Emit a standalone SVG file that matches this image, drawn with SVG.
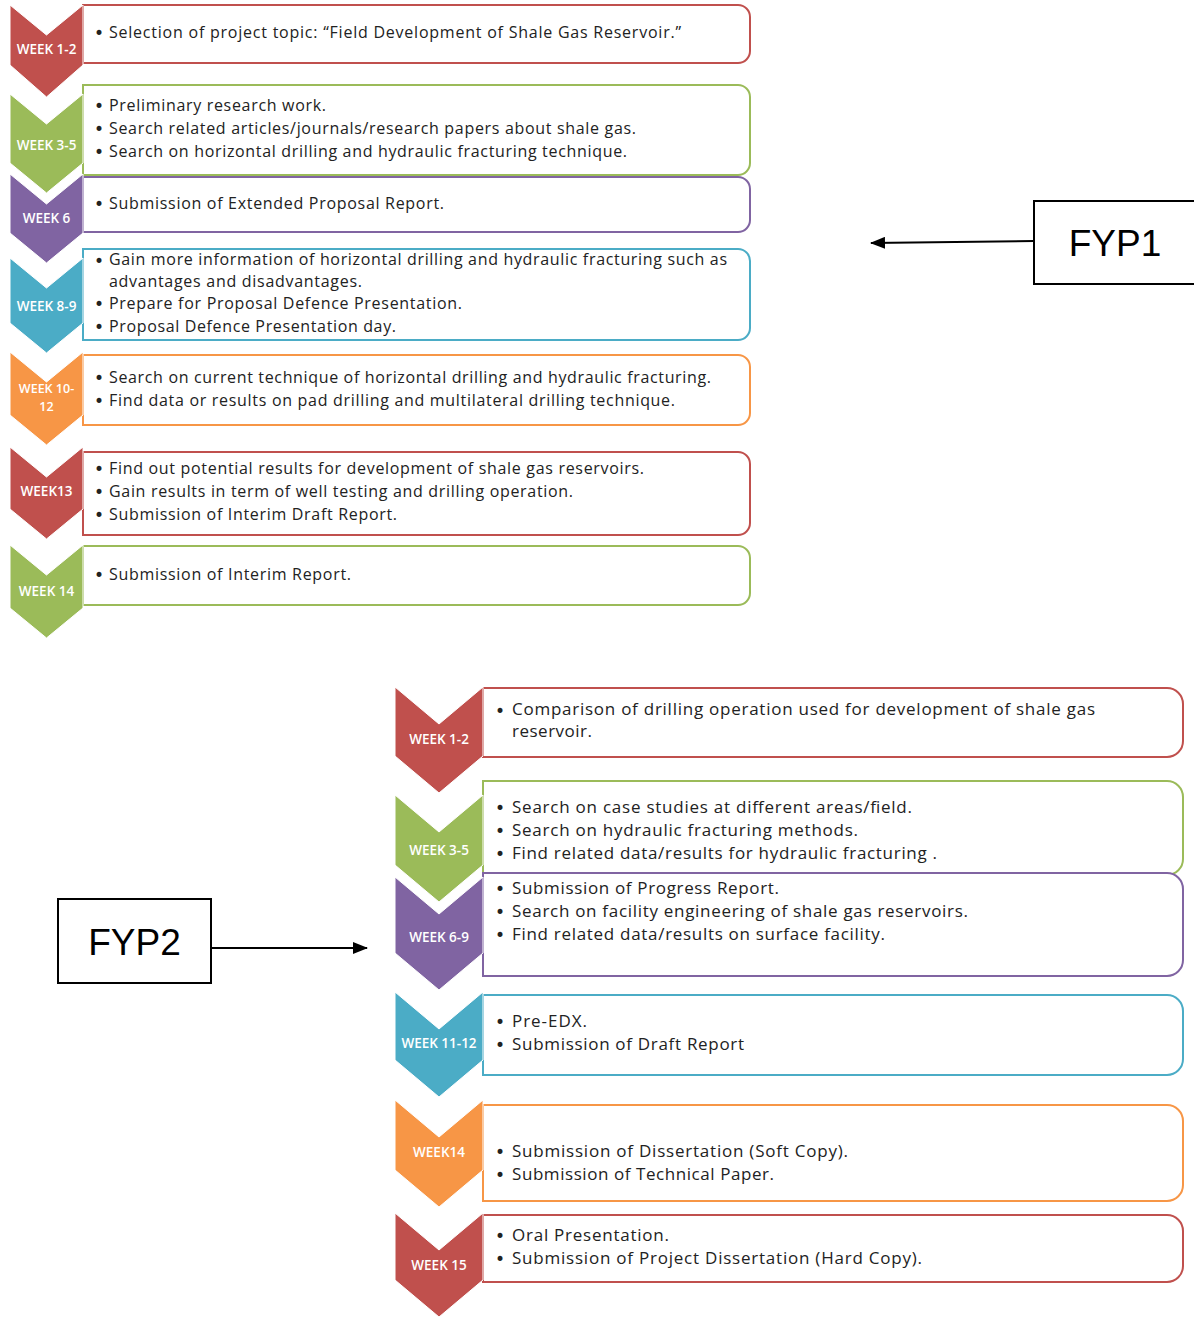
<svg xmlns="http://www.w3.org/2000/svg" width="1194" height="1317" viewBox="0 0 1194 1317">
<defs>
<marker id="ah" markerWidth="15" markerHeight="12" refX="14" refY="6" orient="auto" markerUnits="userSpaceOnUse" viewBox="0 0 15 12">
<path d="M0,0 L15,6 L0,12 Z" fill="#000"/>
</marker>
<style>
.box{fill:#fff;stroke-width:2}
.chev{stroke:#fff;stroke-width:1}
.lbl{font-family:"Open Sans","DejaVu Sans",sans-serif;font-size:13.5px;font-weight:600;fill:#fff;text-anchor:middle}
.lbs{font-family:"Open Sans","DejaVu Sans",sans-serif;font-size:12.5px;font-weight:600;fill:#fff;text-anchor:middle}
.t1{font-family:"Open Sans","DejaVu Sans",sans-serif;font-size:16px;fill:#222}
.t2{font-family:"Open Sans","DejaVu Sans",sans-serif;font-size:17px;fill:#222}
.b{font-family:"DejaVu Sans",sans-serif;font-size:17px;fill:#222}
.red{stroke:#c0504d}.redf{fill:#c0504d}
.grn{stroke:#9bbb59}.grnf{fill:#9bbb59}
.pur{stroke:#8064a2}.purf{fill:#8064a2}
.blu{stroke:#4bacc6}.bluf{fill:#4bacc6}
.org{stroke:#f79646}.orgf{fill:#f79646}
.tag{fill:#fff;stroke:#000;stroke-width:2}
.tagt{font-family:"Liberation Sans",Arial,sans-serif;font-size:37px;fill:#000;text-anchor:middle}
.conn{stroke:#000;stroke-width:2;fill:none}
</style>
</defs>
<rect width="1194" height="1317" fill="#fff"/>

<!-- FYP1 -->
<g id="fyp1-w1-2">
<path class="box red" d="M83,5 H738 A12 12 0 0 1 750,17 V51 A12 12 0 0 1 738,63 H83 Z"/>
<polygon class="chev redf" points="10,5 46.5,35 83,5 83,65 46.5,97 10,65"/>
<text class="lbl" x="46.5" y="54">WEEK 1-2</text>
<text class="b" x="94" y="39">•</text><text class="t1" x="109" y="38" textLength="572" lengthAdjust="spacing">Selection of project topic: “Field Development of Shale Gas Reservoir.”</text>
</g>
<g id="fyp1-w3-5">
<path class="box grn" d="M83,85 H738 A12 12 0 0 1 750,97 V163 A12 12 0 0 1 738,175 H83 Z"/>
<polygon class="chev grnf" points="10,94 46.5,124 83,94 83,163 46.5,193 10,163"/>
<text class="lbl" x="46.5" y="150">WEEK 3-5</text>
<text class="b" x="94" y="112">•</text><text class="t1" x="109" y="111" textLength="217" lengthAdjust="spacing">Preliminary research work.</text>
<text class="b" x="94" y="135">•</text><text class="t1" x="109" y="134" textLength="527" lengthAdjust="spacing">Search related articles/journals/research papers about shale gas.</text>
<text class="b" x="94" y="158">•</text><text class="t1" x="109" y="157" textLength="518" lengthAdjust="spacing">Search on horizontal drilling and hydraulic fracturing technique.</text>
</g>
<g id="fyp1-w6">
<path class="box pur" d="M83,177 H738 A12 12 0 0 1 750,189 V220 A12 12 0 0 1 738,232 H83 Z"/>
<polygon class="chev purf" points="10,174 46.5,204 83,174 83,233 46.5,263 10,233"/>
<text class="lbl" x="46.5" y="223">WEEK 6</text>
<text class="b" x="94" y="210">•</text><text class="t1" x="109" y="209" textLength="335" lengthAdjust="spacing">Submission of Extended Proposal Report.</text>
</g>
<g id="fyp1-w8-9">
<path class="box blu" d="M83,249 H738 A12 12 0 0 1 750,261 V328 A12 12 0 0 1 738,340 H83 Z"/>
<polygon class="chev bluf" points="10,258 46.5,288 83,258 83,323 46.5,353 10,323"/>
<text class="lbl" x="46.5" y="311">WEEK 8-9</text>
<text class="b" x="94" y="267">•</text><text class="t1" x="109" y="265" textLength="618" lengthAdjust="spacing">Gain more information of horizontal drilling and hydraulic fracturing such as</text>
<text class="t1" x="109" y="287" textLength="253" lengthAdjust="spacing">advantages and disadvantages.</text>
<text class="b" x="94" y="310">•</text><text class="t1" x="109" y="309" textLength="353" lengthAdjust="spacing">Prepare for Proposal Defence Presentation.</text>
<text class="b" x="94" y="333">•</text><text class="t1" x="109" y="332" textLength="287" lengthAdjust="spacing">Proposal Defence Presentation day.</text>
</g>
<g id="fyp1-w10-12">
<path class="box org" d="M83,355 H738 A12 12 0 0 1 750,367 V413 A12 12 0 0 1 738,425 H83 Z"/>
<polygon class="chev orgf" points="10,352 46.5,382 83,352 83,415 46.5,445 10,415"/>
<text class="lbs" x="46.5" y="393">WEEK 10-</text>
<text class="lbs" x="46.5" y="411">12</text>
<text class="b" x="94" y="384">•</text><text class="t1" x="109" y="383" textLength="602" lengthAdjust="spacing">Search on current technique of horizontal drilling and hydraulic fracturing.</text>
<text class="b" x="94" y="407">•</text><text class="t1" x="109" y="406" textLength="566" lengthAdjust="spacing">Find data or results on pad drilling and multilateral drilling technique.</text>
</g>
<g id="fyp1-w13">
<path class="box red" d="M83,452 H738 A12 12 0 0 1 750,464 V523 A12 12 0 0 1 738,535 H83 Z"/>
<polygon class="chev redf" points="10,447 46.5,477 83,447 83,509 46.5,539 10,509"/>
<text class="lbl" x="46.5" y="496">WEEK13</text>
<text class="b" x="94" y="475">•</text><text class="t1" x="109" y="474" textLength="535" lengthAdjust="spacing">Find out potential results for development of shale gas reservoirs.</text>
<text class="b" x="94" y="498">•</text><text class="t1" x="109" y="497" textLength="464" lengthAdjust="spacing">Gain results in term of well testing and drilling operation.</text>
<text class="b" x="94" y="521">•</text><text class="t1" x="109" y="520" textLength="288" lengthAdjust="spacing">Submission of Interim Draft Report.</text>
</g>
<g id="fyp1-w14">
<path class="box grn" d="M83,546 H738 A12 12 0 0 1 750,558 V593 A12 12 0 0 1 738,605 H83 Z"/>
<polygon class="chev grnf" points="10,545 46.5,575 83,545 83,608 46.5,638 10,608"/>
<text class="lbl" x="46.5" y="596">WEEK 14</text>
<text class="b" x="94" y="581">•</text><text class="t1" x="109" y="580" textLength="242" lengthAdjust="spacing">Submission of Interim Report.</text>
</g>

<!-- FYP2 -->
<g id="fyp2-w1-2">
<path class="box red" d="M483,688 H1167 A16 16 0 0 1 1183,704 V741 A16 16 0 0 1 1167,757 H483 Z"/>
<polygon class="chev redf" points="395,687 439,724 483,687 483,756 439,793 395,756"/>
<text class="lbl" x="439" y="744">WEEK 1-2</text>
<text class="b" x="495" y="717">•</text><text class="t2" x="512" y="715" textLength="583" lengthAdjust="spacing">Comparison of drilling operation used for development of shale gas</text>
<text class="t2" x="512" y="737" textLength="80" lengthAdjust="spacing">reservoir.</text>
</g>
<g id="fyp2-w3-5">
<path class="box grn" d="M483,781 H1167 A16 16 0 0 1 1183,797 V859 A16 16 0 0 1 1167,875 H483 Z"/>
<polygon class="chev grnf" points="395,795 439,832 483,795 483,865 439,902 395,865"/>
<text class="lbl" x="439" y="855">WEEK 3-5</text>
<text class="b" x="495" y="814">•</text><text class="t2" x="512" y="813" textLength="400" lengthAdjust="spacing">Search on case studies at different areas/field.</text>
<text class="b" x="495" y="837">•</text><text class="t2" x="512" y="836" textLength="346" lengthAdjust="spacing">Search on hydraulic fracturing methods.</text>
<text class="b" x="495" y="860">•</text><text class="t2" x="512" y="859" textLength="425" lengthAdjust="spacing">Find related data/results for hydraulic fracturing .</text>
</g>
<g id="fyp2-w6-9">
<path class="box pur" d="M483,873 H1167 A16 16 0 0 1 1183,889 V960 A16 16 0 0 1 1167,976 H483 Z"/>
<polygon class="chev purf" points="395,877 439,914 483,877 483,953 439,990 395,953"/>
<text class="lbl" x="439" y="942">WEEK 6-9</text>
<text class="b" x="495" y="895">•</text><text class="t2" x="512" y="894" textLength="267" lengthAdjust="spacing">Submission of Progress Report.</text>
<text class="b" x="495" y="918">•</text><text class="t2" x="512" y="917" textLength="456" lengthAdjust="spacing">Search on facility engineering of shale gas reservoirs.</text>
<text class="b" x="495" y="941">•</text><text class="t2" x="512" y="940" textLength="373" lengthAdjust="spacing">Find related data/results on surface facility.</text>
</g>
<g id="fyp2-w11-12">
<path class="box blu" d="M483,995 H1167 A16 16 0 0 1 1183,1011 V1059 A16 16 0 0 1 1167,1075 H483 Z"/>
<polygon class="chev bluf" points="395,992 439,1029 483,992 483,1060 439,1097 395,1060"/>
<text class="lbl" x="439" y="1048">WEEK 11-12</text>
<text class="b" x="495" y="1028">•</text><text class="t2" x="512" y="1027" textLength="75" lengthAdjust="spacing">Pre-EDX.</text>
<text class="b" x="495" y="1051">•</text><text class="t2" x="512" y="1050" textLength="232" lengthAdjust="spacing">Submission of Draft Report</text>
</g>
<g id="fyp2-w14">
<path class="box org" d="M483,1105 H1167 A16 16 0 0 1 1183,1121 V1185 A16 16 0 0 1 1167,1201 H483 Z"/>
<polygon class="chev orgf" points="395,1100 439,1137 483,1100 483,1170 439,1207 395,1170"/>
<text class="lbl" x="439" y="1157">WEEK14</text>
<text class="b" x="495" y="1158">•</text><text class="t2" x="512" y="1157" textLength="336" lengthAdjust="spacing">Submission of Dissertation (Soft Copy).</text>
<text class="b" x="495" y="1181">•</text><text class="t2" x="512" y="1180" textLength="262" lengthAdjust="spacing">Submission of Technical Paper.</text>
</g>
<g id="fyp2-w15">
<path class="box red" d="M483,1215 H1167 A16 16 0 0 1 1183,1231 V1266 A16 16 0 0 1 1167,1282 H483 Z"/>
<polygon class="chev redf" points="395,1213 439,1250 483,1213 483,1280 439,1317 395,1280"/>
<text class="lbl" x="439" y="1270">WEEK 15</text>
<text class="b" x="495" y="1242">•</text><text class="t2" x="512" y="1241" textLength="157" lengthAdjust="spacing">Oral Presentation.</text>
<text class="b" x="495" y="1265">•</text><text class="t2" x="512" y="1264" textLength="410" lengthAdjust="spacing">Submission of Project Dissertation (Hard Copy).</text>
</g>

<!-- tags -->
<g id="fyp1-tag">
<rect class="tag" x="1034" y="201" width="170" height="83"/>
<text class="tagt" x="1115" y="256">FYP1</text>
</g>
<g id="fyp2-tag">
<rect class="tag" x="58" y="899" width="153" height="84"/>
<text class="tagt" x="134.5" y="955">FYP2</text>
</g>

<g id="connectors">
<path class="conn" d="M1034,241 L871,243" marker-end="url(#ah)"/>
<path class="conn" d="M211,948 L367,948" marker-end="url(#ah)"/>
</g>
</svg>
